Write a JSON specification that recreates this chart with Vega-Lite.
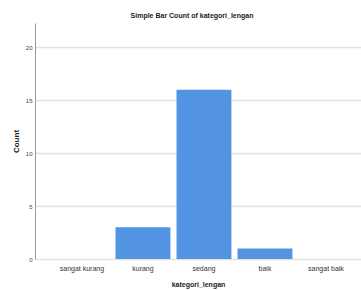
{
  "$schema": "https://vega.github.io/schema/vega-lite/v6.json",
  "autosize": {"type": "none"},
  "width": 326,
  "height": 236,
  "padding": {"left": 35, "top": 23, "right": 0, "bottom": 31},
  "background": "white",
  "title": {"text": "Simple Bar Count of kategori_lengan", "font": "Liberation Sans", "fontSize": 7, "fontWeight": "bold", "color": "#222", "anchor": "middle", "dx": -6, "offset": 4, "frame": "group"},
  "data": {"values": [
    {"kategori_lengan": "sangat kurang", "Count": 0},
    {"kategori_lengan": "kurang", "Count": 3},
    {"kategori_lengan": "sedang", "Count": 16},
    {"kategori_lengan": "baik", "Count": 1},
    {"kategori_lengan": "sangat baik", "Count": 0}
  ]},
  "mark": {"type": "bar", "color": "#5294e2"},
  "encoding": {
    "x": {"field": "kategori_lengan", "type": "nominal", "sort": null,
      "scale": {"paddingInner": 0.1, "paddingOuter": 0.222, "align": 0.72},
      "axis": {"title": "kategori_lengan", "labelAngle": 0, "labelFont": "Liberation Sans", "labelFontSize": 7, "labelColor": "#333", "ticks": false, "labelPadding": 5, "domain": false, "titleFont": "Liberation Sans", "titleFontSize": 7, "titleFontWeight": "bold", "titleColor": "#222", "titlePadding": 9}},
    "y": {"field": "Count", "type": "quantitative",
      "scale": {"domain": [0, 22.3], "nice": false},
      "axis": {"title": "Count", "values": [0, 5, 10, 15, 20], "labelFont": "Liberation Sans", "labelFontSize": 6, "labelColor": "#444", "ticks": false, "labelPadding": 3, "domainColor": "#999", "domainWidth": 1, "gridColor": "#e2e2e2", "gridWidth": 1.5, "titleFont": "Liberation Sans", "titleFontSize": 8, "titleFontWeight": "bold", "titleColor": "#222", "titlePadding": 5}}
  },
  "config": {"view": {"stroke": null}, "axisX": {"grid": false}}
}
